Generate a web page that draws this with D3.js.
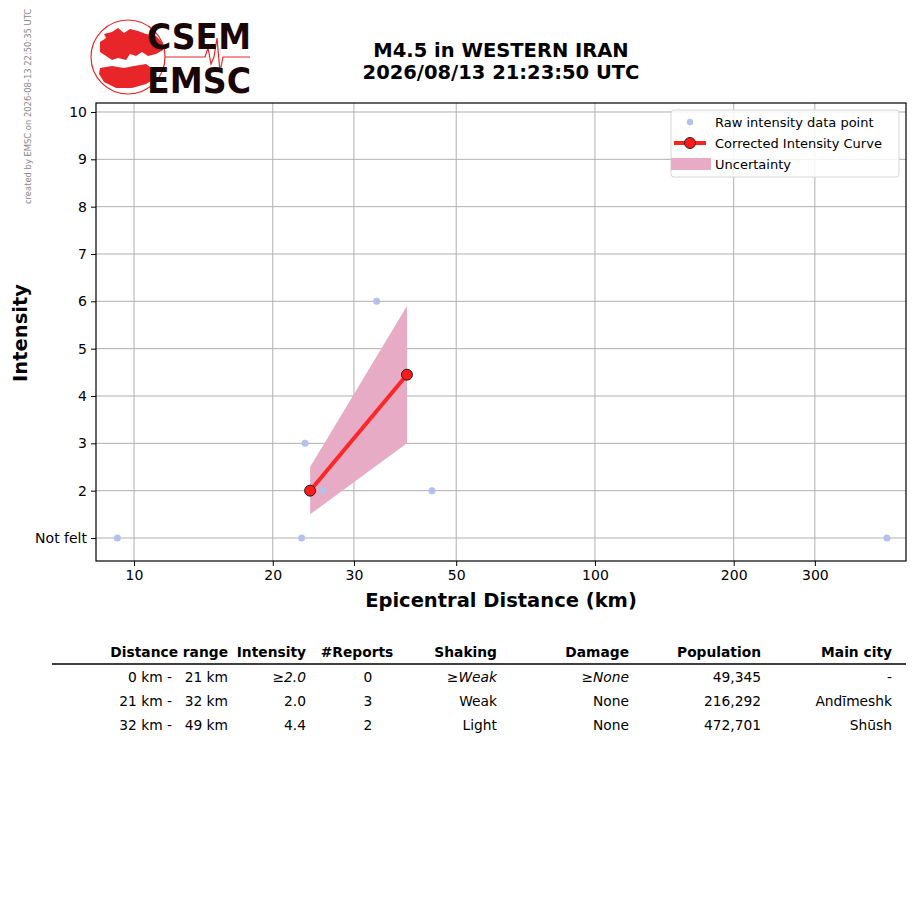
<!DOCTYPE html>
<html>
<head>
<meta charset="utf-8">
<script src="https://cdn.jsdelivr.net/npm/d3@7"></script>
<style>
body { margin: 0; background: #fff; }
svg text { font-family: "DejaVu Sans", sans-serif; }
</style>
</head>
<body>
<script>
// raw intensity reports
var rawDist = [9.2, 23.1, 23.5, 25.7, 33.6, 44.3, 430];
var rawInt  = [1, 1, 3, 2, 6, 2, 1];

// corrected curve + uncertainty band
var curveDist = [24.1, 39.1];
var curveInt  = [2.0, 4.45];
var uncLow    = [1.5, 3.0];
var uncHigh   = [2.5, 5.9];

var xTicks = [10, 20, 30, 50, 100, 200, 300];
var yTicks = [1, 2, 3, 4, 5, 6, 7, 8, 9, 10];
var yTickLabels = ["Not felt", "2", "3", "4", "5", "6", "7", "8", "9", "10"];

// table
var tblHeader = ["Distance range", "Intensity", "#Reports", "Shaking", "Damage", "Population", "Main city"];
var tblFrom   = ["0 km -", "21 km -", "32 km -"];
var tblTo     = ["21 km", "32 km", "49 km"];
var tblInt    = ["\u22652.0", "2.0", "4.4"];
var tblReports = ["0", "3", "2"];
var tblShaking = ["\u2265Weak", "Weak", "Light"];
var tblDamage  = ["\u2265None", "None", "None"];
var tblPop     = ["49,345", "216,292", "472,701"];
var tblCity    = ["-", "And\u012bmeshk", "Sh\u016bsh"];
var tblEstimated = [true, false, false];

var W = 915, H = 905;
var pL = 96, pR = 906, pT = 103, pB = 561;

var svg = d3.select("body").append("svg").attr("width", W).attr("height", H);

// watermark
svg.append("text")
  .attr("transform", "translate(31,204) rotate(-90)")
  .attr("font-size", 8.4).attr("fill", "#888")
  .text("created by EMSC on 2026-08-13 22:50:35 UTC");

// logo
var logo = svg.append("g");
logo.append("circle").attr("cx", 128).attr("cy", 57).attr("r", 37)
  .attr("fill", "none").attr("stroke", "#e8262a").attr("stroke-width", 1.2);
logo.append("path")
  .attr("d", "M100,42 L106,38 L104,34 L112,32 L118,28 L124,33 L130,29 L138,31 L146,34 L156,36 L162,42 L163,50 L156,54 L148,56 L142,52 L136,56 L130,54 L126,60 L118,58 L112,60 L106,56 L100,52 Z")
  .attr("fill", "#e8262a");
logo.append("path")
  .attr("d", "M100,68 L112,66 L124,68 L134,66 L146,64 L154,70 L156,78 L146,84 L132,88 L116,88 L104,82 L99,74 Z")
  .attr("fill", "#e8262a");
logo.append("path")
  .attr("d", "M165,57 L205,57 L208,48 L211,64 L214,57 L217,38 L220,72 L223,57 L250,57")
  .attr("fill", "none").attr("stroke", "#e8262a").attr("stroke-width", 1.2);
logo.append("text").attr("x", 147).attr("y", 49).attr("font-size", 36).attr("font-weight", "bold")
  .attr("fill", "#1a0606").attr("textLength", 104).attr("lengthAdjust", "spacingAndGlyphs").text("CSEM");
logo.append("text").attr("x", 147).attr("y", 93).attr("font-size", 36).attr("font-weight", "bold")
  .attr("fill", "#1a0606").attr("textLength", 104).attr("lengthAdjust", "spacingAndGlyphs").text("EMSC");

// title
svg.append("text").attr("x", 501).attr("y", 57).attr("text-anchor", "middle")
  .attr("font-size", 19.5).attr("font-weight", "bold").text("M4.5 in WESTERN IRAN");
svg.append("text").attr("x", 501).attr("y", 79).attr("text-anchor", "middle")
  .attr("font-size", 19.5).attr("font-weight", "bold").text("2026/08/13 21:23:50 UTC");

var x = d3.scaleLog().domain([8.27, 473]).range([pL, pR]);
var y = d3.scaleLinear().domain([0.514, 10.19]).range([pB, pT]);

// grid
svg.append("g").selectAll("line").data(xTicks).enter().append("line")
  .attr("x1", function(d){ return x(d); }).attr("x2", function(d){ return x(d); })
  .attr("y1", pT).attr("y2", pB).attr("stroke", "#b0b0b0").attr("stroke-width", 1);
svg.append("g").selectAll("line").data(yTicks).enter().append("line")
  .attr("y1", function(d){ return y(d); }).attr("y2", function(d){ return y(d); })
  .attr("x1", pL).attr("x2", pR).attr("stroke", "#b0b0b0").attr("stroke-width", 1);

// uncertainty band
var band = d3.area()
  .x(function(d, i){ return x(curveDist[i]); })
  .y0(function(d, i){ return y(uncLow[i]); })
  .y1(function(d, i){ return y(uncHigh[i]); });
svg.append("path").datum(curveDist).attr("d", band).attr("fill", "#e8abc6");

// raw points
svg.append("g").selectAll("circle").data(rawDist).enter().append("circle")
  .attr("cx", function(d){ return x(d); })
  .attr("cy", function(d, i){ return y(rawInt[i]); })
  .attr("r", 3.5).attr("fill", "#b3c1ec");

// corrected curve
var line = d3.line()
  .x(function(d, i){ return x(curveDist[i]); })
  .y(function(d, i){ return y(curveInt[i]); });
svg.append("path").datum(curveDist).attr("d", line)
  .attr("fill", "none").attr("stroke", "#ff2020").attr("stroke-width", 4).attr("stroke-opacity", 0.95);
svg.append("g").selectAll("circle").data(curveDist).enter().append("circle")
  .attr("cx", function(d){ return x(d); })
  .attr("cy", function(d, i){ return y(curveInt[i]); })
  .attr("r", 5.5).attr("fill", "#ff1a1a").attr("stroke", "#222").attr("stroke-width", 1);

// frame
svg.append("rect").attr("x", pL).attr("y", pT).attr("width", pR - pL).attr("height", pB - pT)
  .attr("fill", "none").attr("stroke", "#000").attr("stroke-width", 1.2);

// axes
var xAxis = d3.axisBottom(x).tickValues(xTicks).tickFormat(d3.format("d")).tickSize(5).tickPadding(4);
var gx = svg.append("g").attr("transform", "translate(0," + pB + ")").call(xAxis);
gx.select(".domain").remove();
gx.selectAll("text").attr("font-size", 14).attr("fill", "#000").attr("font-family", "DejaVu Sans");

var yAxis = d3.axisLeft(y).tickValues(yTicks).tickFormat(function(d, i){ return yTickLabels[i]; }).tickSize(5).tickPadding(4);
var gy = svg.append("g").attr("transform", "translate(" + pL + ",0)").call(yAxis);
gy.select(".domain").remove();
gy.selectAll("text").attr("font-size", 14).attr("fill", "#000").attr("font-family", "DejaVu Sans");

svg.append("text").attr("x", 501).attr("y", 607).attr("text-anchor", "middle")
  .attr("font-size", 19.5).attr("font-weight", "bold").text("Epicentral Distance (km)");
svg.append("text").attr("transform", "translate(27,333) rotate(-90)").attr("text-anchor", "middle")
  .attr("font-size", 19.5).attr("font-weight", "bold").text("Intensity");

// legend
var lg = svg.append("g");
lg.append("rect").attr("x", 671).attr("y", 110).attr("width", 228).attr("height", 67).attr("rx", 3)
  .attr("fill", "#fff").attr("fill-opacity", 0.85).attr("stroke", "#d6d6d6");
lg.append("circle").attr("cx", 690).attr("cy", 122).attr("r", 3.2).attr("fill", "#b3c1ec");
lg.append("line").attr("x1", 674).attr("x2", 706).attr("y1", 143).attr("y2", 143)
  .attr("stroke", "#ff2020").attr("stroke-width", 4);
lg.append("circle").attr("cx", 690).attr("cy", 143).attr("r", 5.5).attr("fill", "#ff1a1a").attr("stroke", "#222");
lg.append("rect").attr("x", 671).attr("y", 158).attr("width", 40).attr("height", 12).attr("fill", "#e8abc6");
var lgText = ["Raw intensity data point", "Corrected Intensity Curve", "Uncertainty"];
lg.selectAll("text.lt").data(lgText).enter().append("text").attr("class", "lt")
  .attr("x", 715).attr("y", function(d, i){ return 127 + i * 21; })
  .attr("font-size", 13).text(function(d){ return d; });

// table
var colRight = [228, 306, null, 497, 629, 761, 892];
var hdrY = 657, rowY = [682, 706, 730];
var tbl = svg.append("g").attr("font-size", 13.8);
tblHeader.forEach(function(h, i) {
  var t = tbl.append("text").attr("y", hdrY).attr("font-weight", "bold").text(h);
  if (colRight[i] === null) t.attr("x", 357).attr("text-anchor", "middle");
  else t.attr("x", colRight[i]).attr("text-anchor", "end");
});
tbl.append("line").attr("x1", 52).attr("x2", 906).attr("y1", 664).attr("y2", 664)
  .attr("stroke", "#000").attr("stroke-width", 1.5);
rowY.forEach(function(yy, r) {
  var ital = tblEstimated[r] ? "italic" : "normal";
  tbl.append("text").attr("x", 172).attr("y", yy).attr("text-anchor", "end").text(tblFrom[r]);
  tbl.append("text").attr("x", 228).attr("y", yy).attr("text-anchor", "end").text(tblTo[r]);
  tbl.append("text").attr("x", 306).attr("y", yy).attr("text-anchor", "end").attr("font-style", ital).text(tblInt[r]);
  tbl.append("text").attr("x", 368).attr("y", yy).attr("text-anchor", "middle").text(tblReports[r]);
  tbl.append("text").attr("x", 497).attr("y", yy).attr("text-anchor", "end").attr("font-style", ital).text(tblShaking[r]);
  tbl.append("text").attr("x", 629).attr("y", yy).attr("text-anchor", "end").attr("font-style", ital).text(tblDamage[r]);
  tbl.append("text").attr("x", 761).attr("y", yy).attr("text-anchor", "end").text(tblPop[r]);
  tbl.append("text").attr("x", 892).attr("y", yy).attr("text-anchor", "end").text(tblCity[r]);
});
</script>
</body>
</html>
